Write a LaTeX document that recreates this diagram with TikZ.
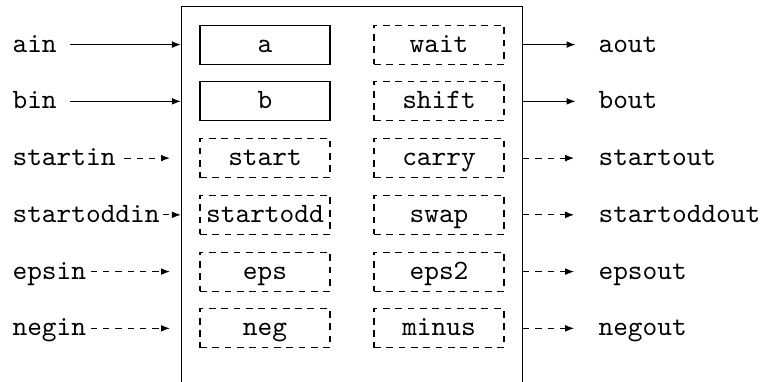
\documentclass[tikz,border=0pt]{standalone}
\usetikzlibrary{arrows.meta}
\begin{document}
\begin{tikzpicture}[x=0.35714pt,y=-0.35714pt,
  font=\ttfamily,
  txt/.style={text height=7pt,text depth=1.64pt},
  solidbox/.style={txt,draw,line width=0.4pt,minimum width=46.43pt,minimum height=13.93pt,inner sep=0pt},
  dashbox/.style={solidbox,dash pattern=on 2.4pt off 2pt},
  lbl/.style={txt,anchor=west,inner sep=0pt},
  arr/.style={-{Latex[length=3.2pt,width=2.4pt]},line width=0.4pt},
  darr/.style={arr,dash pattern=on 2.2pt off 2.2pt}]
\useasboundingbox (0,0) rectangle (765,382);
% outer block (open at the bottom edge of the picture)
\node[draw,line width=0.4pt,minimum width=121.8pt,minimum height=151.2pt,inner sep=0pt] (blk) at (352,218.35) {};
% left column
\node[solidbox] (a)        at (265,44.6)  {a};
\node[solidbox] (b)        at (265,101.35) {b};
\node[dashbox]  (start)    at (265,158.1) {start};
\node[dashbox]  (startodd) at (265,214.85) {startodd};
\node[dashbox]  (eps)      at (265,271.6) {eps};
\node[dashbox]  (neg)      at (265,328.35) {neg};
% right column
\node[dashbox] (wait)  at (439,44.6)  {wait};
\node[dashbox] (shift) at (439,101.35) {shift};
\node[dashbox] (carry) at (439,158.1) {carry};
\node[dashbox] (swap)  at (439,214.85) {swap};
\node[dashbox] (eps2)  at (439,271.6) {eps2};
\node[dashbox] (minus) at (439,328.35) {minus};
% input labels
\node[lbl] (ain)        at (12,44.6)  {ain};
\node[lbl] (bin)        at (12,101.35) {bin};
\node[lbl] (startin)    at (12,158.1) {startin};
\node[lbl] (startoddin) at (12,214.85) {startoddin};
\node[lbl] (epsin)      at (12,271.6) {epsin};
\node[lbl] (negin)      at (12,328.35) {negin};
% output labels
\node[lbl] (aout)        at (598,44.6)  {aout};
\node[lbl] (bout)        at (598,101.35) {bout};
\node[lbl] (startout)    at (598,158.1) {startout};
\node[lbl] (startoddout) at (598,214.85) {startoddout};
\node[lbl] (epsout)      at (598,271.6) {epsout};
\node[lbl] (negout)      at (598,328.35) {negout};
% input arrows
\draw[arr]  (ain.east) ++(4.5pt,0) -- (ain.east -| blk.west);
\draw[arr]  (bin.east) ++(4.5pt,0) -- (bin.east -| blk.west);
\draw[darr,shorten <=3pt,shorten >=3.9pt] (startin.east) -- (startin.east -| blk.west);
\draw[darr,shorten <=1pt] (startoddin.east) -- (startoddin.east -| blk.west);
\draw[darr,shorten <=1.5pt,shorten >=3.9pt] (epsin.east) -- (epsin.east -| blk.west);
\draw[darr,shorten <=1.5pt,shorten >=3.9pt] (negin.east) -- (negin.east -| blk.west);
% output arrows
\draw[arr]  (aout.west -| blk.east) -- (aout.west) [shorten >=8pt];
\draw[arr,shorten >=8pt]  (bout.west -| blk.east) -- (bout.west);
\draw[darr,shorten >=8.5pt] (startout.west -| blk.east) -- (startout.west);
\draw[darr,shorten >=8.5pt] (startoddout.west -| blk.east) -- (startoddout.west);
\draw[darr,shorten >=8.5pt] (epsout.west -| blk.east) -- (epsout.west);
\draw[darr,shorten >=8.5pt] (negout.west -| blk.east) -- (negout.west);
\end{tikzpicture}
\end{document}
